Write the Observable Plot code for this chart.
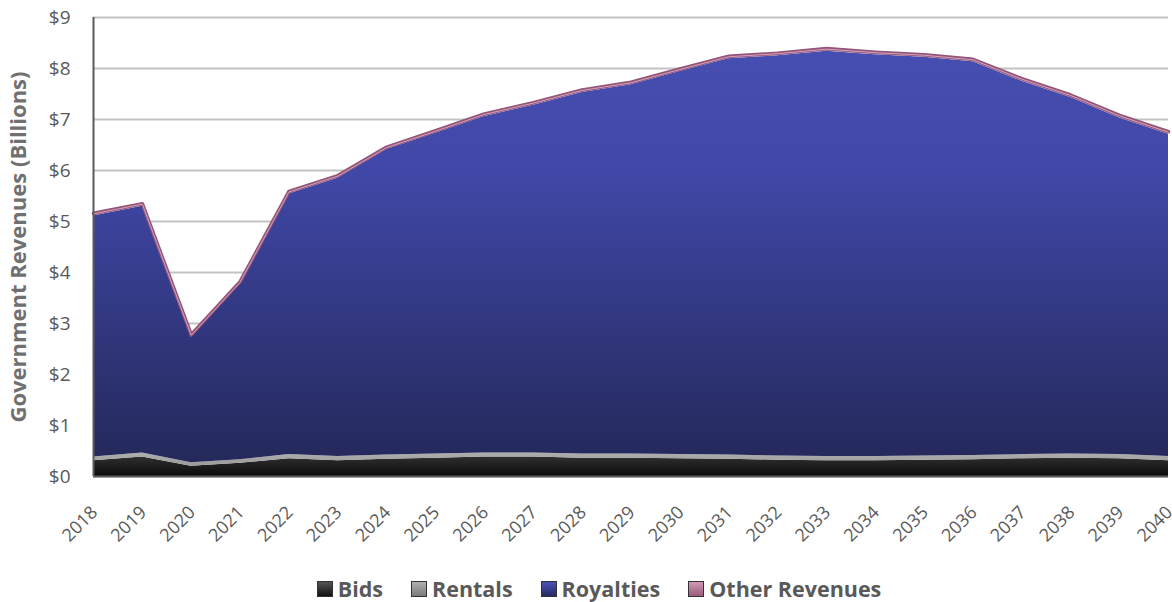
<!DOCTYPE html>
<html><head><meta charset="utf-8">
<script src="https://cdn.jsdelivr.net/npm/d3@7"></script>
<script src="https://cdn.jsdelivr.net/npm/@observablehq/plot@0.6"></script>
<style>
body{margin:0;background:#fff;font-family:"Open Sans",Lato,sans-serif;}
#wrap{position:relative;width:1172px;height:602px;overflow:hidden;}
#legend{position:absolute;left:0;top:574px;width:1172px;box-sizing:border-box;padding-left:26px;display:flex;justify-content:center;align-items:center;gap:28px;font-weight:bold;font-size:21.5px;color:#595959;}
#legend .it{display:flex;align-items:center;gap:5px;}
#legend .sw{width:14px;height:14px;border:1px solid #333;}
</style></head><body>
<div id="wrap"><div id="chart"></div><div id="legend"></div></div>
<script>
const years = [2018,2019,2020,2021,2022,2023,2024,2025,2026,2027,2028,2029,2030,2031,2032,2033,2034,2035,2036,2037,2038,2039,2040];
const seriesNames = ["Bids","Rentals","Royalties","Other Revenues"];
const bids      = [0.31,0.38,0.20,0.26,0.35,0.31,0.34,0.36,0.38,0.38,0.36,0.36,0.35,0.34,0.32,0.31,0.31,0.32,0.33,0.35,0.36,0.35,0.31];
const rentals   = [0.07,0.08,0.07,0.07,0.08,0.08,0.08,0.08,0.08,0.08,0.08,0.08,0.08,0.08,0.08,0.08,0.08,0.08,0.08,0.08,0.08,0.08,0.08];
const royalties = [4.73,4.84,2.46,3.44,5.11,5.46,5.99,6.29,6.60,6.82,7.09,7.24,7.51,7.77,7.85,7.95,7.88,7.82,7.72,7.32,6.99,6.60,6.32];
const other     = [0.05,0.05,0.05,0.05,0.05,0.05,0.05,0.05,0.05,0.05,0.05,0.05,0.05,0.05,0.05,0.05,0.05,0.05,0.05,0.05,0.05,0.05,0.05];
const yTicks = [0,1,2,3,4,5,6,7,8,9];
const seriesValues = [bids, rentals, royalties, other];
const fills = ["url(#gBids)","url(#gRentals)","url(#gRoy)","url(#gOther)"];
const swatchCss = [
  "linear-gradient(#555,#111)",
  "linear-gradient(#b0b0b0,#7a7a7a)",
  "linear-gradient(#4b52b5,#252a62)",
  "linear-gradient(#d19ab5,#9a5a7d)"
];

const data = [];
seriesNames.forEach((s, i) => years.forEach((yr, j) => data.push({year: yr, series: s, value: seriesValues[i][j]})));

const plot = Plot.plot({
  width: 1172, height: 560,
  marginLeft: 93, marginRight: 4, marginTop: 17, marginBottom: 84,
  style: {fontFamily: "'Open Sans', Lato, sans-serif", color: "#595959", overflow: "visible", background: "#fff"},
  x: {type: "linear", domain: [2018, 2040], label: null},
  y: {domain: [0, 9], label: null},
  color: {domain: seriesNames, range: fills},
  marks: [
    Plot.gridY(yTicks, {stroke: "#c3c3c3", strokeOpacity: 1, strokeWidth: 2}),
    Plot.areaY(data, Plot.stackY({x: "year", y: "value", z: "series", fill: "series", order: seriesNames})),
    Plot.lineY(data, Plot.groupX({y: "sum"}, {x: "year", y: "value", stroke: "#94547a", strokeWidth: 3.5})),
    Plot.lineY(data, Plot.groupX({y: "sum"}, {x: "year", y: "value", stroke: "#d3a3bb", strokeWidth: 1, dy: 0.5})),
    Plot.axisY(yTicks, {tickFormat: d => "$" + d, tickSize: 0, tickPadding: 23, fontSize: 19, fill: "#595959", label: null}),
    Plot.axisX(years, {tickFormat: d => String(d), tickRotate: -45, tickSize: 0, tickPadding: 33, fontSize: 18, fill: "#595959", label: null, dx: 1}),
    Plot.ruleX([2018], {stroke: "#5a5a5a", strokeWidth: 2}),
    Plot.ruleY([0], {stroke: "#5a5a5a", strokeWidth: 2}),
    Plot.text(["Government Revenues (Billions)"], {frameAnchor: "left", textAnchor: "middle", rotate: -90, dx: -75, fontSize: 22, fontWeight: "bold", fill: "#707070"})
  ]
});

const ns = "http://www.w3.org/2000/svg";
const defs = document.createElementNS(ns, "defs");
function grad(id, x1, y1, x2, y2, stops, units) {
  const g = document.createElementNS(ns, "linearGradient");
  g.setAttribute("id", id);
  g.setAttribute("x1", x1); g.setAttribute("y1", y1); g.setAttribute("x2", x2); g.setAttribute("y2", y2);
  if (units) g.setAttribute("gradientUnits", units);
  stops.forEach(([o, c]) => {
    const s = document.createElementNS(ns, "stop");
    s.setAttribute("offset", o); s.setAttribute("stop-color", c);
    g.appendChild(s);
  });
  defs.appendChild(g);
}
grad("gRoy", 0, 17, 0, 476, [[0, "#4850b4"], [0.35, "#4047a6"], [1, "#232757"]], "userSpaceOnUse");
grad("gBids", 0, 440, 0, 476, [[0, "#5a5a5a"], [0.4, "#333"], [1, "#0b0b0b"]], "userSpaceOnUse");
grad("gRentals", 0, 440, 0, 476, [[0, "#c2c2c2"], [1, "#8a8a8a"]], "userSpaceOnUse");
grad("gOther", 0, 0, 0, 1, [[0, "#c08aa6"], [1, "#9a5a7d"]]);
plot.insertBefore(defs, plot.firstChild);
document.getElementById("chart").appendChild(plot);

const legend = document.getElementById("legend");
seriesNames.forEach((s, i) => {
  const it = document.createElement("div"); it.className = "it";
  const sw = document.createElement("div"); sw.className = "sw"; sw.style.background = swatchCss[i];
  const t = document.createElement("span"); t.textContent = s;
  it.appendChild(sw); it.appendChild(t); legend.appendChild(it);
});
</script>
</body></html>
